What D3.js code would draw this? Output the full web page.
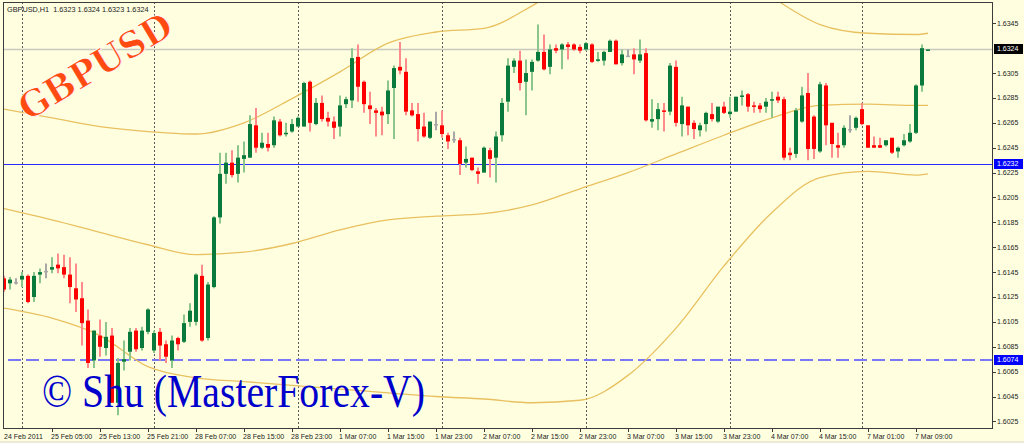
<!DOCTYPE html>
<html><head><meta charset="utf-8">
<script src="https://cdn.jsdelivr.net/npm/d3@7"></script>
<style>html,body{margin:0;padding:0;background:#FFFFE0;overflow:hidden}</style>
</head><body>
<svg id="c" width="1024" height="443"></svg>
<script>
// ---- data (GBPUSD H1, 24 Feb 2011 21:00 .. 7 Mar 2011 11:00) ----
const opens = [
1.6140,1.6136,1.6137,1.6139,1.6142,1.6125,1.6143,1.6146,1.6147,1.6151,
1.6149,1.6143,1.6132,1.6124,1.6106,1.6074,1.6094,1.6084,1.6094,1.6040,
1.6073,1.6081,1.6098,1.6084,1.6097,1.6082,1.6097,1.6087,1.6074,1.6092,
1.6089,1.6105,1.6105,1.6142,1.6092,1.6133,1.6189,1.6224,1.6233,1.6224,
1.6236,1.6237,1.6263,1.6245,1.6248,1.6247,1.6266,1.6256,1.6258,1.6262,
1.6262,1.6298,1.6264,1.6281,1.6269,1.6266,1.6262,1.6280,1.6283,1.6318,
1.6298,1.6279,1.6275,1.6274,1.6272,1.6293,1.6310,1.6306,1.6275,1.6272,
1.6262,1.6253,1.6264,1.6263,1.6255,1.6252,1.6251,1.6233,1.6237,1.6226,
1.6225,1.6243,1.6237,1.6255,1.6282,1.6310,1.6315,1.6298,1.6306,1.6315,
1.6322,1.6310,1.6325,1.6324,1.6328,1.6328,1.6326,1.6324,1.6328,1.6315,
1.6315,1.6322,1.6331,1.6313,1.6319,1.6320,1.6315,1.6321,1.6266,1.6268,
1.6275,1.6274,1.6310,1.6264,1.6278,1.6265,1.6259,1.6264,1.6272,1.6266,
1.6278,1.6272,1.6274,1.6286,1.6288,1.6279,1.6279,1.6278,1.6283,1.6286,
1.6284,1.6241,1.6240,1.6266,1.6289,1.6270,1.6242,1.6295,1.6265,1.6247,
1.6247,1.6260,1.6261,1.6276,1.6263,1.6247,1.6247,1.6247,1.6253,1.6242,
1.6247,1.6250,1.6257,1.6295,1.6323];
const highs = [
1.6142,1.6141,1.6140,1.6145,1.6143,1.6145,1.6148,1.6152,1.6157,1.6160,
1.6159,1.6157,1.6152,1.6137,1.6115,1.6098,1.6107,1.6105,1.6100,1.6076,
1.6090,1.6100,1.6100,1.6101,1.6116,1.6098,1.6100,1.6090,1.6094,1.6093,
1.6111,1.6120,1.6144,1.6151,1.6137,1.6190,1.6241,1.6241,1.6243,1.6247,
1.6250,1.6271,1.6277,1.6257,1.6257,1.6270,1.6268,1.6265,1.6268,1.6270,
1.6298,1.6299,1.6285,1.6287,1.6274,1.6270,1.6287,1.6286,1.6325,1.6328,
1.6299,1.6290,1.6277,1.6278,1.6299,1.6311,1.6330,1.6317,1.6281,1.6281,
1.6273,1.6266,1.6274,1.6275,1.6257,1.6258,1.6253,1.6246,1.6237,1.6229,
1.6246,1.6245,1.6258,1.6285,1.6317,1.6317,1.6323,1.6316,1.6316,1.6344,
1.6336,1.6328,1.6328,1.6329,1.6330,1.6329,1.6328,1.6330,1.6329,1.6322,
1.6323,1.6332,1.6332,1.6324,1.6324,1.6325,1.6332,1.6325,1.6284,1.6281,
1.6281,1.6313,1.6315,1.6286,1.6278,1.6267,1.6265,1.6274,1.6281,1.6278,
1.6282,1.6286,1.6286,1.6291,1.6289,1.6282,1.6281,1.6285,1.6290,1.6290,
1.6286,1.6245,1.6277,1.6294,1.6305,1.6271,1.6298,1.6297,1.6265,1.6257,
1.6263,1.6271,1.6270,1.6281,1.6263,1.6254,1.6253,1.6251,1.6253,1.6246,
1.6256,1.6264,1.6296,1.6328,1.6324];
const lows = [
1.6129,1.6131,1.6135,1.6133,1.6120,1.6121,1.6136,1.6140,1.6144,1.6144,
1.6140,1.6120,1.6113,1.6086,1.6068,1.6068,1.6077,1.6078,1.6040,1.6030,
1.6066,1.6074,1.6081,1.6082,1.6095,1.6080,1.6074,1.6072,1.6068,1.6082,
1.6088,1.6101,1.6102,1.6089,1.6090,1.6132,1.6184,1.6216,1.6221,1.6217,
1.6225,1.6237,1.6241,1.6244,1.6242,1.6245,1.6254,1.6254,1.6257,1.6262,
1.6262,1.6258,1.6263,1.6266,1.6262,1.6252,1.6254,1.6277,1.6277,1.6282,
1.6273,1.6264,1.6254,1.6255,1.6264,1.6252,1.6304,1.6271,1.6270,1.6250,
1.6253,1.6252,1.6259,1.6253,1.6244,1.6249,1.6223,1.6229,1.6226,1.6216,
1.6225,1.6221,1.6217,1.6250,1.6274,1.6305,1.6291,1.6271,1.6291,1.6314,
1.6307,1.6304,1.6321,1.6308,1.6316,1.6323,1.6321,1.6323,1.6313,1.6314,
1.6311,1.6322,1.6312,1.6311,1.6318,1.6304,1.6313,1.6266,1.6261,1.6259,
1.6258,1.6271,1.6262,1.6254,1.6255,1.6252,1.6254,1.6258,1.6266,1.6265,
1.6272,1.6269,1.6274,1.6279,1.6274,1.6273,1.6273,1.6273,1.6269,1.6281,
1.6235,1.6235,1.6237,1.6265,1.6235,1.6236,1.6241,1.6247,1.6237,1.6237,
1.6245,1.6257,1.6259,1.6263,1.6245,1.6245,1.6245,1.6246,1.6240,1.6237,
1.6246,1.6249,1.6256,1.6290,1.6323];
const closes = [
1.6131,1.6139,1.6137,1.6142,1.6121,1.6142,1.6145,1.6146,1.6149,1.6148,
1.6143,1.6133,1.6123,1.6104,1.6072,1.6098,1.6085,1.6093,1.6040,1.6072,
1.6075,1.6097,1.6083,1.6098,1.6115,1.6096,1.6086,1.6077,1.6090,1.6087,
1.6104,1.6114,1.6143,1.6090,1.6135,1.6189,1.6224,1.6233,1.6223,1.6237,
1.6239,1.6264,1.6245,1.6249,1.6245,1.6267,1.6255,1.6257,1.6264,1.6269,
1.6297,1.6265,1.6281,1.6268,1.6266,1.6261,1.6279,1.6284,1.6317,1.6294,
1.6280,1.6276,1.6273,1.6271,1.6291,1.6309,1.6307,1.6274,1.6271,1.6260,
1.6254,1.6266,1.6264,1.6256,1.6250,1.6252,1.6232,1.6236,1.6227,1.6224,
1.6245,1.6236,1.6254,1.6281,1.6311,1.6315,1.6297,1.6305,1.6314,1.6322,
1.6308,1.6324,1.6323,1.6328,1.6326,1.6324,1.6323,1.6329,1.6314,1.6316,
1.6322,1.6331,1.6312,1.6320,1.6319,1.6316,1.6320,1.6267,1.6268,1.6276,
1.6274,1.6311,1.6265,1.6279,1.6263,1.6260,1.6263,1.6273,1.6268,1.6278,
1.6273,1.6274,1.6286,1.6287,1.6278,1.6278,1.6276,1.6282,1.6284,1.6283,
1.6237,1.6239,1.6275,1.6287,1.6244,1.6244,1.6296,1.6263,1.6248,1.6245,
1.6261,1.6260,1.6269,1.6264,1.6245,1.6245,1.6245,1.6251,1.6241,1.6245,
1.6251,1.6257,1.6295,1.6325,1.6324];

// Bollinger-style envelope, read at these bar positions
const bandIdx    = [0, 8, 16, 24, 32, 40, 48, 56, 64, 72, 80, 88, 96, 104, 112, 120, 128, 136, 144, 152, 154];
const upperBand  = [1.6276,1.6269,1.6262,1.6258,1.6256,1.6265,1.62845,1.6306,1.6329,1.6338,1.6341,1.6359,1.6384,1.6396,1.6400,1.6392,1.6366,1.6344,1.6337,1.6336,1.6337];
const middleBand = [1.6196,1.6187,1.6177,1.6167,1.6159,1.6161,1.6168,1.6179,1.6187,1.6190,1.6192,1.6199,1.6212,1.6225,1.6240,1.6255,1.6269,1.6279,1.6280,1.6279,1.6279];
const lowerBand  = [1.6116,1.6108,1.6094,1.6069,1.6060,1.6057,1.6054,1.6051,1.6048,1.6045,1.6043,1.6040,1.6042,1.6062,1.6100,1.6150,1.6193,1.6221,1.6226,1.6223,1.6224];

const timeLabels   = ["24 Feb 2011","25 Feb 05:00","25 Feb 13:00","25 Feb 21:00","28 Feb 07:00","28 Feb 15:00","28 Feb 23:00","1 Mar 07:00","1 Mar 15:00","1 Mar 23:00","2 Mar 07:00","2 Mar 15:00","2 Mar 23:00","3 Mar 07:00","3 Mar 15:00","3 Mar 23:00","4 Mar 07:00","4 Mar 15:00","7 Mar 01:00","7 Mar 09:00"];
const timeLabelIdx = [0,8,16,24,32,40,48,56,64,72,80,88,96,104,112,120,128,136,144,152];
const daySeparatorIdx = [3,25,49,73,97,121,143];
const priceTicks = [1.6025,1.6045,1.6065,1.6085,1.6105,1.6125,1.6145,1.6165,1.6185,1.6205,1.6225,1.6245,1.6265,1.6285,1.6305,1.6325,1.6345];
const currentPrice = 1.6324;
const levelSolid = 1.6232;
const levelDashed = 1.6074;
const headerText = "GBPUSD,H1  1.6323 1.6324 1.6323 1.6324";

// ---- layout ----
const svg = d3.select("#c");
const plot = {left: 3, right: 992, top: 2, bottom: 428};
const x = d3.scaleLinear().domain([0, 154]).range([4, 928]);
const y = d3.scaleLinear().domain([1.6025, 1.6345]).range([421.4, 23.3]);

svg.append("rect").attr("width", 1024).attr("height", 443).attr("fill", "#FFFFE0");
svg.append("rect").attr("x", 0).attr("y", 441).attr("width", 1024).attr("height", 2).attr("fill", "#ECE9D8");

svg.append("clipPath").attr("id", "clip").append("rect")
  .attr("x", plot.left + 1).attr("y", plot.top + 1)
  .attr("width", plot.right - plot.left - 1).attr("height", plot.bottom - plot.top - 1);
const g = svg.append("g").attr("clip-path", "url(#clip)");

// day separators
g.selectAll("line.sep").data(daySeparatorIdx).join("line")
  .attr("x1", d => Math.round(x(d)) + 0.5).attr("x2", d => Math.round(x(d)) + 0.5)
  .attr("y1", plot.top).attr("y2", plot.bottom)
  .attr("stroke", "#5a5a5a").attr("stroke-width", 1).attr("stroke-dasharray", "2,2");

// horizontal lines
g.append("line").attr("x1", plot.left).attr("x2", plot.right)
  .attr("y1", Math.round(y(currentPrice)) + 0.5).attr("y2", Math.round(y(currentPrice)) + 0.5)
  .attr("stroke", "#C8C8C0").attr("stroke-width", 1.5);
g.append("line").attr("x1", plot.left).attr("x2", plot.right)
  .attr("y1", Math.round(y(levelSolid)) + 0.5).attr("y2", Math.round(y(levelSolid)) + 0.5)
  .attr("stroke", "#2b2bff").attr("stroke-width", 1);
g.append("line").attr("x1", plot.left + 5).attr("x2", plot.right)
  .attr("y1", Math.round(y(levelDashed))).attr("y2", Math.round(y(levelDashed)))
  .attr("stroke", "#7878f8").attr("stroke-width", 2).attr("stroke-dasharray", "13,5");

// watermark texts
svg.append("text").text("GBPUSD")
  .attr("transform", "translate(95,66) rotate(-31)")
  .attr("text-anchor", "middle").attr("dominant-baseline", "central")
  .attr("font-family", "DejaVu Serif").attr("font-weight", "bold").attr("font-size", 36)
  .attr("fill", "#FF4A12").attr("stroke", "#ffffff").attr("stroke-width", 0.8)
  .attr("textLength", 172).attr("lengthAdjust", "spacingAndGlyphs");

svg.append("text").text("© Shu (MasterForex-V)")
  .attr("x", 42).attr("y", 407)
  .attr("font-family", "Liberation Serif").attr("font-size", 46)
  .attr("fill", "#0000CC")
  .attr("textLength", 383).attr("lengthAdjust", "spacingAndGlyphs");

// bands
const bandLine = d3.line().x((d, i) => x(bandIdx[i])).y(d => y(d)).curve(d3.curveMonotoneX);
[upperBand, middleBand, lowerBand].forEach(arr => {
  g.append("path").attr("d", bandLine(arr)).attr("fill", "none")
    .attr("stroke", "#E8C060").attr("stroke-width", 1.3);
});

// candles
const bars = opens.map((o, i) => ({i, o, h: highs[i], l: lows[i], c: closes[i]}));
const kind = d => d.c > d.o ? "up" : (d.c < d.o ? "down" : "doji");
const wickColor = {up: "#8cc68c", down: "#ff8c8c", doji: "#a8a8a8"};
const bodyColor = {up: "#0a7a3c", down: "#ff0000", doji: "#a8a8a8"};

g.selectAll("line.wick").data(bars).join("line")
  .attr("x1", d => x(d.i)).attr("x2", d => x(d.i))
  .attr("y1", d => y(d.h)).attr("y2", d => y(d.l))
  .attr("stroke", d => wickColor[kind(d)]).attr("stroke-width", 2);

g.selectAll("rect.body").data(bars).join("rect")
  .attr("x", d => x(d.i) - 2)
  .attr("y", d => Math.min(y(d.o), y(d.c)))
  .attr("width", 4)
  .attr("height", d => Math.max(1.5, Math.abs(y(d.o) - y(d.c))))
  .attr("fill", d => bodyColor[kind(d)]);

// frame
svg.append("rect").attr("x", plot.left + 0.5).attr("y", plot.top + 0.5)
  .attr("width", plot.right - plot.left).attr("height", plot.bottom - plot.top)
  .attr("fill", "none").attr("stroke", "#3c3c3c").attr("stroke-width", 1);

// price axis
const axisFont = "Liberation Sans";
const boxes = [currentPrice, levelSolid, levelDashed];
const ticksShown = priceTicks.filter(t => boxes.every(b => Math.abs(y(t) - y(b)) > 8));
svg.selectAll("line.ytick").data(ticksShown).join("line")
  .attr("x1", plot.right + 1).attr("x2", plot.right + 4)
  .attr("y1", d => Math.round(y(d)) + 0.5).attr("y2", d => Math.round(y(d)) + 0.5)
  .attr("stroke", "#3c3c3c");
svg.selectAll("text.ylab").data(ticksShown).join("text")
  .attr("x", plot.right + 5).attr("y", d => y(d)).attr("dy", "0.35em")
  .attr("font-family", axisFont).attr("font-size", 7).attr("fill", "#222")
  .text(d => d.toFixed(4));

const boxData = [
  {v: currentPrice, fill: "#000000"},
  {v: levelSolid, fill: "#0000ff"},
  {v: levelDashed, fill: "#0000ff"}];
boxData.forEach(b => {
  const yy = Math.round(y(b.v));
  svg.append("rect").attr("x", plot.right + 2).attr("y", yy - 5).attr("width", 29).attr("height", 10).attr("fill", b.fill);
  svg.append("text").attr("x", plot.right + 5).attr("y", yy).attr("dy", "0.35em")
    .attr("font-family", axisFont).attr("font-size", 7).attr("fill", "#fff").text(b.v.toFixed(4));
});

// time axis
svg.selectAll("line.xtick").data(timeLabelIdx.slice(1)).join("line")
  .attr("x1", d => Math.round(x(d)) + 0.5).attr("x2", d => Math.round(x(d)) + 0.5)
  .attr("y1", plot.bottom).attr("y2", plot.bottom + 4).attr("stroke", "#3c3c3c");
svg.selectAll("text.xlab").data(timeLabels).join("text")
  .attr("x", (d, i) => i === 0 ? plot.left + 1 : Math.round(x(timeLabelIdx[i])) - 1)
  .attr("y", 439)
  .attr("font-family", axisFont).attr("font-size", 7).attr("fill", "#222")
  .text(d => d);

// header
svg.append("text").attr("x", 7).attr("y", 12).text(headerText)
  .attr("font-family", axisFont).attr("font-size", 7.3).attr("fill", "#222")
  .style("white-space", "pre").attr("xml:space", "preserve");
</script>
</body></html>
